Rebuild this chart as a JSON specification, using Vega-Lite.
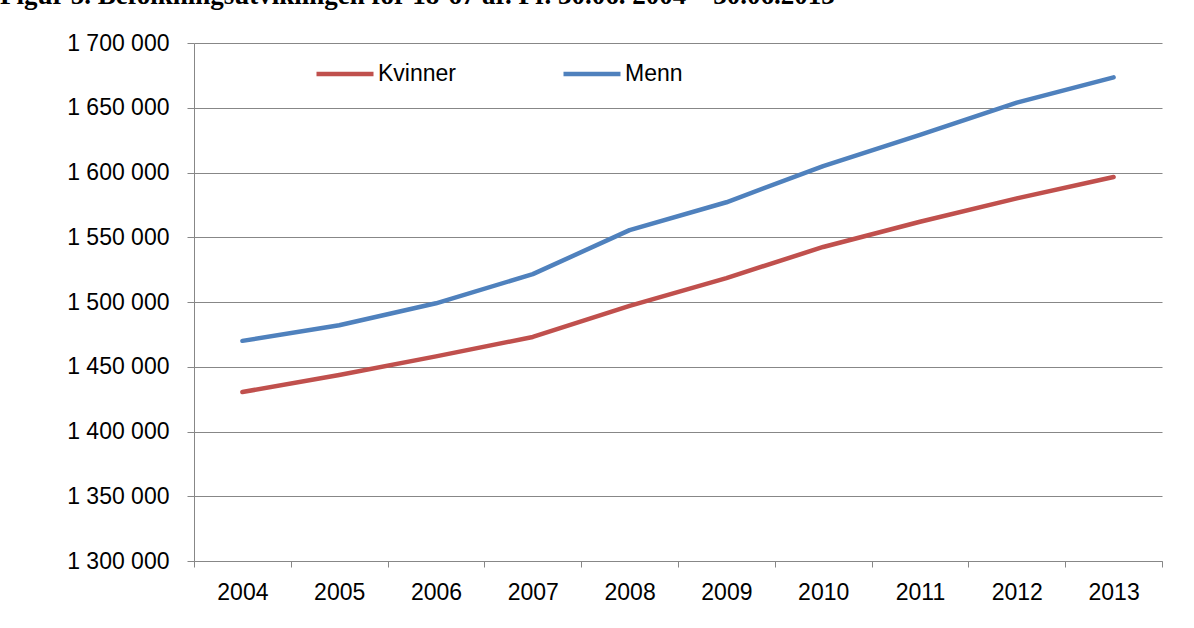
{
  "$schema": "https://vega.github.io/schema/vega-lite/v6.json",
  "autosize": {"type": "none"},
  "width": 968,
  "height": 518,
  "padding": {"left": 194, "top": 43, "right": 32, "bottom": 67},
  "background": "white",
  "config": {
    "locale": {"number": {"decimal": ",", "thousands": " ", "grouping": [3], "currency": ["", ""]}},
    "view": {"stroke": null},
    "font": "Liberation Sans"
  },
  "title": {
    "text": "Figur 5. Befolkningsutviklingen for 18-67 år. Pr. 30.06. 2004 – 30.06.2013",
    "anchor": "start",
    "frame": "group",
    "dx": -194,
    "offset": 22,
    "font": "Liberation Serif",
    "fontSize": 27,
    "fontWeight": "bold",
    "color": "black"
  },
  "data": {
    "values": [
      {"year": "2004", "series": "Kvinner", "value": 1430500},
      {"year": "2005", "series": "Kvinner", "value": 1443600},
      {"year": "2006", "series": "Kvinner", "value": 1458000},
      {"year": "2007", "series": "Kvinner", "value": 1473000},
      {"year": "2008", "series": "Kvinner", "value": 1497000},
      {"year": "2009", "series": "Kvinner", "value": 1518500},
      {"year": "2010", "series": "Kvinner", "value": 1542500},
      {"year": "2011", "series": "Kvinner", "value": 1562000},
      {"year": "2012", "series": "Kvinner", "value": 1580000},
      {"year": "2013", "series": "Kvinner", "value": 1596500},
      {"year": "2004", "series": "Menn", "value": 1470000},
      {"year": "2005", "series": "Menn", "value": 1482000},
      {"year": "2006", "series": "Menn", "value": 1499000},
      {"year": "2007", "series": "Menn", "value": 1521500},
      {"year": "2008", "series": "Menn", "value": 1555500},
      {"year": "2009", "series": "Menn", "value": 1577000},
      {"year": "2010", "series": "Menn", "value": 1605000},
      {"year": "2011", "series": "Menn", "value": 1629000},
      {"year": "2012", "series": "Menn", "value": 1654000},
      {"year": "2013", "series": "Menn", "value": 1673500}
    ]
  },
  "mark": {"type": "line", "strokeWidth": 4.5, "strokeCap": "round", "strokeJoin": "round"},
  "encoding": {
    "x": {
      "field": "year",
      "type": "ordinal",
      "bandPosition": 0.5,
      "scale": {"type": "band", "paddingInner": 0, "paddingOuter": 0},
      "axis": {
        "title": null,
        "labelAngle": 0,
        "tickBand": "extent",
        "grid": false,
        "domainColor": "#878787",
        "tickColor": "#878787",
        "tickSize": 6,
        "labelFontSize": 23,
        "labelColor": "black",
        "labelPadding": 14
      }
    },
    "y": {
      "field": "value",
      "type": "quantitative",
      "scale": {"domain": [1300000, 1700000], "nice": false, "zero": false},
      "axis": {
        "title": null,
        "values": [1300000, 1350000, 1400000, 1450000, 1500000, 1550000, 1600000, 1650000, 1700000],
        "format": ",.0f",
        "gridColor": "#878787",
        "gridWidth": 1.2,
        "domainColor": "#878787",
        "tickColor": "#878787",
        "tickSize": 7,
        "labelFontSize": 23,
        "labelColor": "black",
        "labelPadding": 18
      }
    },
    "color": {
      "field": "series",
      "type": "nominal",
      "scale": {"domain": ["Kvinner", "Menn"], "range": ["#C0504D", "#4F81BD"]},
      "legend": {
        "title": null,
        "orient": "none",
        "legendX": 120,
        "legendY": 0,
        "direction": "horizontal",
        "symbolType": "stroke",
        "symbolSize": 3249,
        "symbolStrokeWidth": 4.5,
        "labelFontSize": 23,
        "labelColor": "black",
        "labelOffset": 2,
        "columnPadding": 98
      }
    }
  }
}
